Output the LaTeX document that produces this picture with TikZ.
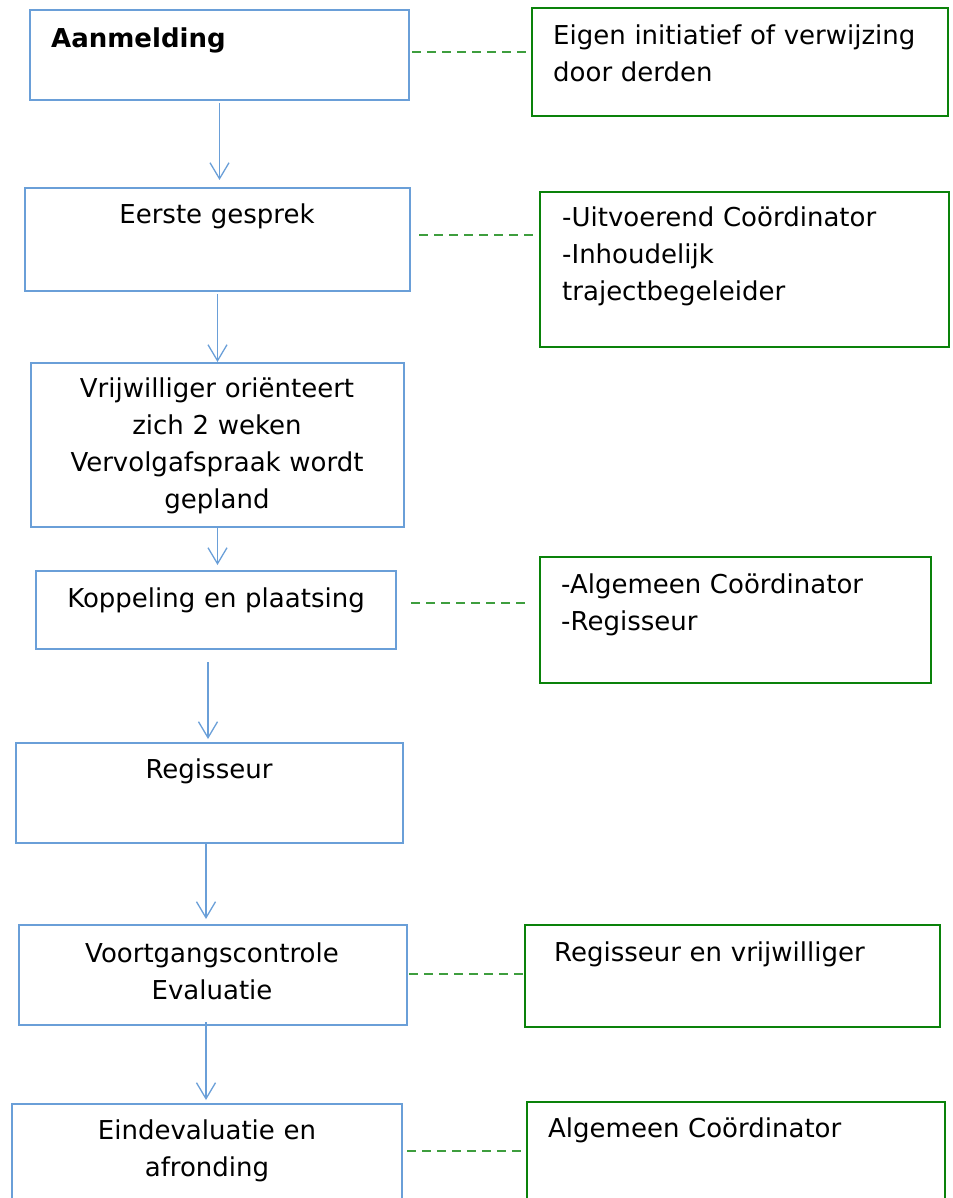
\documentclass[tikz,border=0pt]{standalone}
\usepackage{fontspec}
\setmainfont{DejaVu Sans}
\usetikzlibrary{arrows.meta,calc}
\definecolor{flowblue}{HTML}{6A9FD8}
\definecolor{notegreen}{HTML}{0A820A}
\definecolor{linkgreen}{HTML}{3E9E3E}

\begin{document}
\begin{tikzpicture}[x=1pt,y=-1pt,font=\fontsize{26}{37}\selectfont,
    stap/.style={draw=flowblue,line width=2pt,inner sep=0pt,anchor=north west},
    noot/.style={draw=notegreen,line width=2pt,inner sep=0pt,anchor=north west},
    txt/.style={inner sep=0pt,text width=380pt,align=center,anchor=base},
    ntxt/.style={inner sep=0pt,text width=380pt,align=left,anchor=base west},
    flow/.style={flowblue,line width=1.3pt,
      -{Straight Barb[length=16pt,width=19pt,line width=1.3pt]}},
    link/.style={linkgreen,line width=1.5pt,dash pattern=on 9pt off 6pt}]
  \useasboundingbox (0,0) rectangle (952,1198);
  \clip (0,0) rectangle (952,1198);

  % steps
  \node[stap,minimum width=379pt,minimum height=90pt] (aan) at (29,9) {};
  \node[stap,minimum width=385pt,minimum height=103pt] (eer) at (24,187) {};
  \node[stap,minimum width=373pt,minimum height=164pt] (vrij) at (30,362) {};
  \node[stap,minimum width=360pt,minimum height=78pt] (kop) at (35,570) {};
  \node[stap,minimum width=387pt,minimum height=100pt] (reg) at (15,742) {};
  \node[stap,minimum width=388pt,minimum height=100pt] (voort) at (18,924) {};
  \node[stap,minimum width=390pt,minimum height=120pt] (eind) at (11,1103) {};

  % who is involved
  \node[noot,minimum width=416pt,minimum height=108pt] (eig) at (531,7) {};
  \node[noot,minimum width=409pt,minimum height=155pt] (uit) at (539,191) {};
  \node[noot,minimum width=391pt,minimum height=126pt] (alg) at (539,556) {};
  \node[noot,minimum width=415pt,minimum height=102pt] (rv) at (524,924) {};
  \node[noot,minimum width=418pt,minimum height=120pt] (ac) at (526,1101) {};

  \node[inner sep=0pt,anchor=base west] (aan-t) at (51,48) {\bfseries Aanmelding};
  \node[txt] (eer-t) at (217,224) {Eerste gesprek};
  \node[txt] (vrij-t) at (217,397) {Vrijwilliger oriënteert\\zich 2 weken\\Vervolgafspraak wordt\\gepland};
  \node[txt] (kop-t) at (216,607) {Koppeling en plaatsing};
  \node[txt] (reg-t) at (209,778) {Regisseur};
  \node[txt] (voort-t) at (212,962) {Voortgangscontrole\\Evaluatie};
  \node[txt] (eind-t) at (207,1139) {Eindevaluatie en\\afronding};

  \node[ntxt] (eig-t) at (553,45) {Eigen initiatief of verwijzing\\door derden};
  \node[ntxt] (uit-t) at (562,226) {-Uitvoerend Coördinator\\-Inhoudelijk\\trajectbegeleider};
  \node[ntxt] (alg-t) at (561,593) {-Algemeen Coördinator\\-Regisseur};
  \node[ntxt] (rv-t) at (554,961) {Regisseur en vrijwilliger};
  \node[ntxt] (ac-t) at (548,1137) {Algemeen Coördinator};

  % flow
  \draw[flow,shorten <=2pt,shorten >=7pt] (aan.south) -- (aan.south |- eer.north);
  \draw[flow,shorten <=2pt] (eer.south) -- (eer.south |- vrij.north);
  \draw[flow,shorten >=5pt] (vrij.south) -- (vrij.south |- kop.north);
  \coordinate (k1) at ([xshift=-8pt,yshift=-12pt]kop.south);
  \draw[flow,shorten >=3pt] (k1) -- (k1 |- reg.north);
  \coordinate (r1) at ([xshift=-3.5pt]reg.south);
  \draw[flow,shorten >=5pt] (r1) -- (r1 |- voort.north);
  \coordinate (v1) at ([xshift=-7pt,yshift=4pt]voort.south);
  \draw[flow,shorten >=3pt] (v1) -- (v1 |- eind.north);

  % links
  \coordinate (l1) at ([xshift=2pt,yshift=3pt]aan.east);
  \draw[link,shorten >=2pt] (l1) -- (l1 -| eig.west);
  \coordinate (l2) at ([xshift=8pt,yshift=4.5pt]eer.east);
  \draw[link,shorten >=3pt] (l2) -- (l2 -| uit.west);
  \coordinate (l3) at ([xshift=14pt,yshift=7pt]kop.east);
  \draw[link,shorten >=10pt] (l3) -- (l3 -| alg.west);
  \coordinate (l4) at ([xshift=1pt,yshift=1pt]voort.east);
  \draw[link] (l4) -- (l4 -| rv.west);
  \coordinate (l5) at ([xshift=4pt,yshift=13pt]eind.east);
  \draw[link,shorten >=3pt] (l5) -- (l5 -| ac.west);
\end{tikzpicture}
\end{document}
